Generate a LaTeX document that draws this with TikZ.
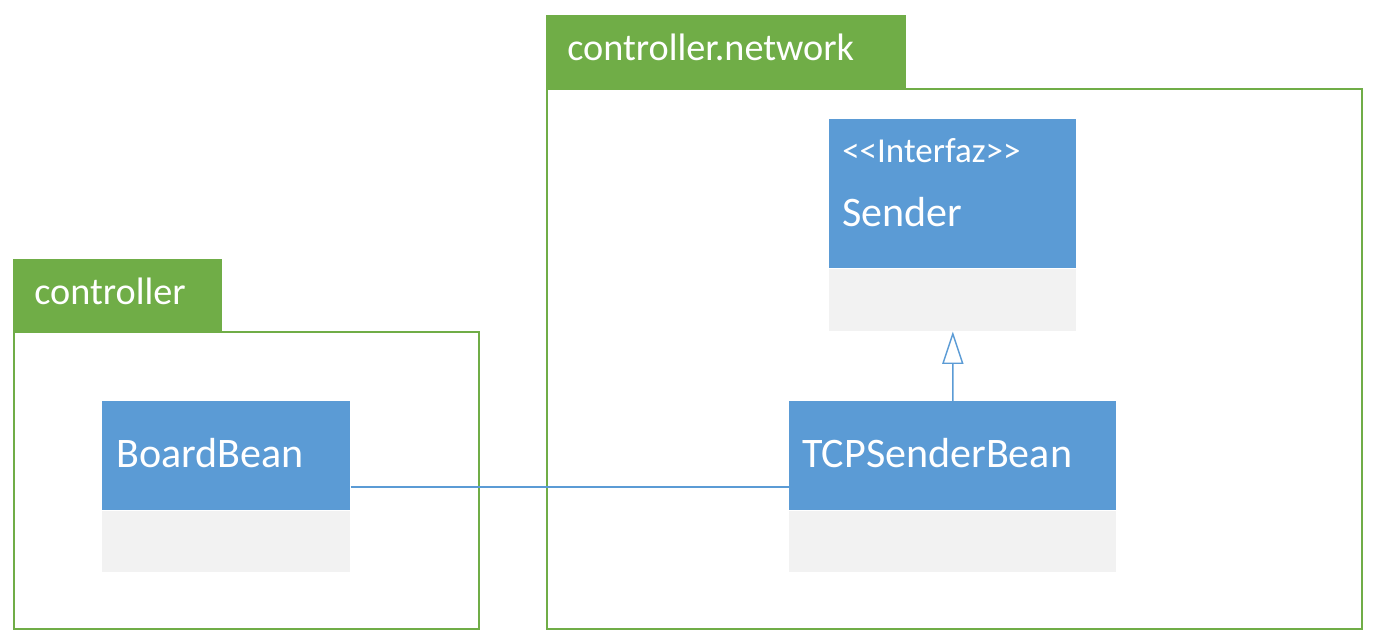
\documentclass[tikz,border=0pt]{standalone}
\usepackage{fontspec}
\setmainfont{Carlito}
\newfontfamily\stereofont{Carlito}[Ligatures=TeXOff]
\usepackage{xcolor}
\usetikzlibrary{arrows.meta, positioning}

\definecolor{pkggreen}{HTML}{70AD47}
\definecolor{classblue}{HTML}{5B9BD5}
\definecolor{bodygray}{HTML}{F2F2F2}

\begin{document}
\begin{tikzpicture}[
    x=0.025cm, y=-0.025cm,
    pkgtab/.style={rectangle, fill=pkggreen, draw=pkggreen, line width=1pt, anchor=north west, inner sep=0pt},
    pkgbox/.style={rectangle, draw=pkggreen, line width=1.4pt, anchor=north west, inner sep=0pt},
    classhead/.style={rectangle, fill=classblue, anchor=north west, inner sep=0pt, minimum height=2.725cm},
    classbody/.style={rectangle, fill=bodygray, anchor=north west, inner sep=0pt, minimum height=1.525cm},
    pkgname/.style={anchor=base west, text=white, font=\fontsize{27.2}{32}\selectfont, inner sep=0pt},
    classname/.style={anchor=base west, text=white, font=\fontsize{29.9}{36}\selectfont, inner sep=0pt},
    stereo/.style={anchor=base west, text=white, font=\stereofont\fontsize{24.9}{30}\selectfont, inner sep=0pt},
    link/.style={draw=classblue, line width=1pt},
    inherit/.style={draw=classblue, line width=1pt, -{Triangle[open, length=23pt, width=15pt, fill=white]}}
]
\useasboundingbox (0,0) rectangle (1375,642);

% --- Package controller.network ---
\node[pkgtab, minimum width=8.95cm, minimum height=1.825cm] (networktab) at (546,15) {};
\node[pkgbox, minimum width=20.375cm, minimum height=13.5cm] (network) at (546,88) {};
\node[pkgname] (networkname) at (567,61) {controller.network};

% --- Package controller ---
\node[pkgtab, minimum width=5.2cm, minimum height=1.8cm] (controllertab) at (13,259) {};
\node[pkgbox, minimum width=11.625cm, minimum height=7.425cm] (controller) at (13,331) {};
\node[pkgname] (controllername) at (34,305) {controller};

% --- Interface Sender ---
\node[classhead, minimum width=6.175cm, minimum height=3.725cm] (sender) at (829,119) {};
\node[classbody, minimum width=6.175cm, minimum height=1.55cm] (senderbody) at (829,269) {};
\node[stereo] (senderstereo) at (842,163) {<<Interfaz>>};
\node[classname] (sendername) at (842,227) {Sender};

% --- Class TCPSenderBean ---
\node[classhead, minimum width=8.175cm] (tcpsender) at (789,401) {};
\node[classbody, minimum width=8.175cm] (tcpsenderbody) at (789,511) {};
\node[classname] (tcpsendername) at (802,468) {TCPSenderBean};

% --- Class BoardBean ---
\node[classhead, minimum width=6.2cm] (boardbean) at (102,401) {};
\node[classbody, minimum width=6.2cm] (boardbeanbody) at (102,511) {};
\node[classname] (boardbeanname) at (116,468) {BoardBean};

% --- Connections ---
\coordinate (linky) at (0,487);
\draw[link] (boardbean.east |- linky) -- (tcpsender.west |- linky);
\draw[inherit] (tcpsender.north) -- (senderbody.south);

\end{tikzpicture}
\end{document}
